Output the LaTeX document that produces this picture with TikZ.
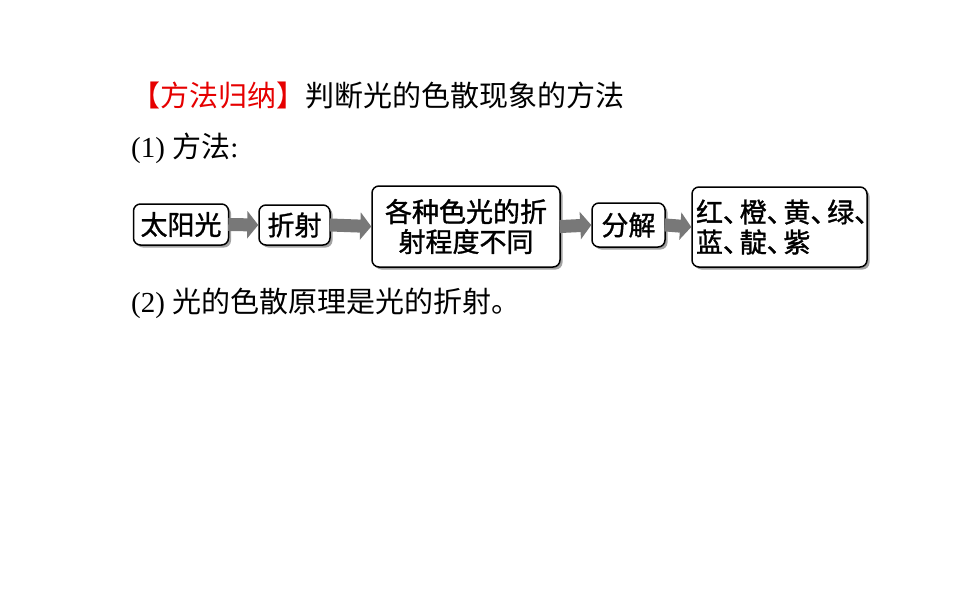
\documentclass[tikz,border=0pt]{standalone}
\usepackage{fontspec}
\setmainfont{Liberation Serif}
\newfontfamily\cjk{Noto Sans CJK SC}
\newfontfamily\cjkm{Noto Sans CJK SC}[FakeBold=1.2]
\usetikzlibrary{arrows.meta,shadows}
\definecolor{titlered}{RGB}{230,0,0}
\definecolor{arrowgray}{RGB}{120,120,120}
\newcommand{\dun}{\makebox[0.62em][l]{、}}
\tikzset{
  flowbox/.style={draw=black, line width=1.5pt, fill=white, rounded corners=7pt,
    drop shadow={shadow xshift=2.5pt, shadow yshift=-2.5pt, fill=black!45, opacity=0.8},
    inner sep=0pt, font=\cjkm\fontsize{27}{30}\selectfont, align=center},
  flowarrow/.style={draw=arrowgray, line width=13pt, -{Triangle[length=11pt,width=27pt]}, shorten <=-1pt},
  bodytext/.style={anchor=west, inner sep=0pt, font=\fontsize{29}{32}\selectfont}
}
\begin{document}
\begin{tikzpicture}[x=1pt,y=-1pt]
\useasboundingbox (0,0) rectangle (960,600);
\fill[white] (0,0) rectangle (960,600);

\node[bodytext] (title) at (131,95) {\cjk\textcolor{titlered}{【方法归纳】}判断光的色散现象的方法};
\node[bodytext] (m1) at (131,148) {(1) {\cjk 方法}:};

\node[flowbox, minimum width=95pt, minimum height=41pt] (b1) at (181,224.5) {太阳光};
\node[flowbox, minimum width=71pt, minimum height=40pt] (b2) at (294.5,225) {折射};
\node[flowbox, minimum width=188pt, minimum height=81pt] (b3) at (466,226.5) {各种色光的折\\射程度不同};
\node[flowbox, minimum width=175pt, minimum height=80pt, align=left, text width=167pt] (b5) at (779.5,227) {红\dun 橙\dun 黄\dun 绿\dun\\蓝\dun 靛\dun 紫};
\node[flowbox, minimum width=73pt, minimum height=44pt] (b4) at (628.5,225) {分解};

\draw[flowarrow] (b1.east) -- (b2.west);
\draw[flowarrow] (b2.east) -- (b3.west);
\draw[flowarrow] (b3.east) -- (b4.west);
\draw[flowarrow] (b4.east) -- (b5.west);

\node[bodytext] (m2) at (131,303) {(2) {\cjk 光的色散原理是光的折射。}};
\end{tikzpicture}
\end{document}
